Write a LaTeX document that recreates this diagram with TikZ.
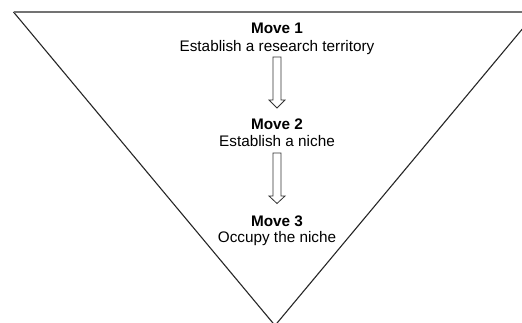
\documentclass[tikz,border=0pt]{standalone}
\usepackage{fontspec}
\setmainfont{Liberation Sans}
\begin{document}
\begin{tikzpicture}[x=1pt,y=-1pt,
  lbl/.style={anchor=base,inner sep=0pt,font=\fontsize{15.3}{18}\selectfont},
  ttl/.style={lbl,font=\fontsize{15.3}{18}\selectfont\bfseries},
  blockarrow/.style={draw=black!80,line width=0.8pt,fill=white},
  side/.style={draw=black!85,line width=1.1pt},
  topedge/.style={draw=black!55,line width=1.6pt}]
\useasboundingbox (0,0) rectangle (522,323);
\clip (0,0) rectangle (522,323);
\coordinate (tl) at (13.5,12);
\coordinate (tr) at (536.5,12);
\coordinate (bot) at (275,325.5);
\draw[side] (tl) -- (bot) -- (tr);
\draw[topedge] (tl) -- (tr);
\node[ttl] (m1) at (277,33.5) {Move 1};
\node[lbl] (e1) at (277,51.5) {Establish a research territory};
\node[ttl] (m2) at (277,129.5) {Move 2};
\node[lbl] (e2) at (277,147) {Establish a niche};
\node[ttl] (m3) at (277,226.5) {Move 3};
\node[lbl] (e3) at (277,242.5) {Occupy the niche};
\draw[blockarrow] (273,57) -- (281,57) -- (281,100) -- (285,100) -- (277,108) -- (269,100) -- (273,100) -- cycle;
\draw[blockarrow] (273,153) -- (281,153) -- (281,196) -- (285,196) -- (277,203.5) -- (269,196) -- (273,196) -- cycle;
\end{tikzpicture}
\end{document}
